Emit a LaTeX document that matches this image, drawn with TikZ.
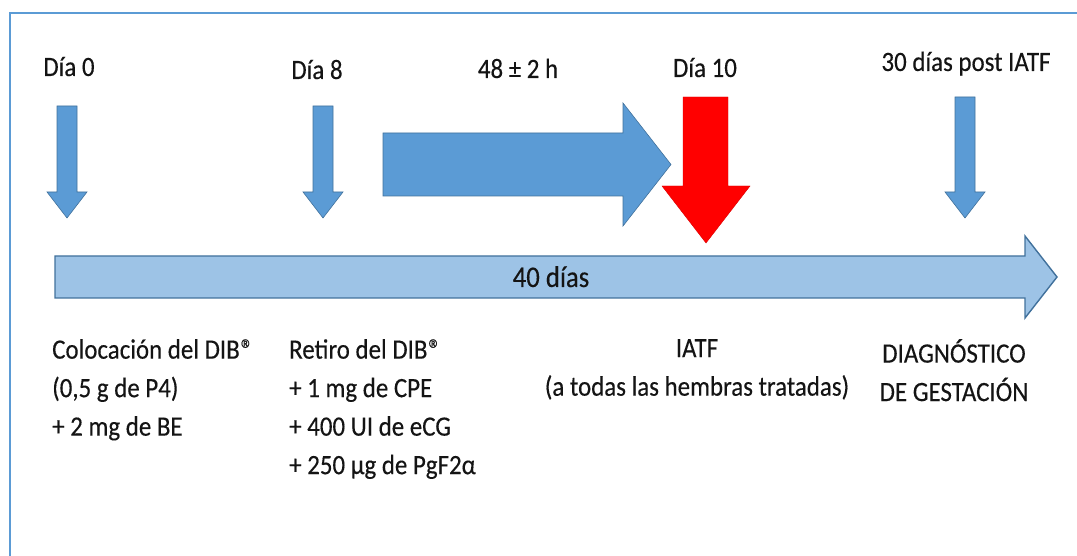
\documentclass[tikz,border=0pt]{standalone}
\usepackage{fontspec}
\setmainfont{Carlito}[FakeStretch=0.89,FakeBold=0.3]
\definecolor{arrowblue}{HTML}{5B9BD5}
\definecolor{lineblue}{HTML}{9DC3E6}
\definecolor{edgeblue}{HTML}{41719C}
\newcommand{\regmark}{\kern1pt®}
\begin{document}
\begin{tikzpicture}[x=1pt,y=-1pt]
        \tikzset{label text/.style={font=\fontsize{28}{38.5}\selectfont, text=black!92, inner sep=0pt},
            day text/.style={label text, anchor=base},
            small arrow/.style={fill=arrowblue, draw=edgeblue, line width=0.6pt},
            interval arrow/.style={fill=arrowblue, draw=edgeblue, line width=0.6pt},
            iatf arrow/.style={fill=red, draw=red!85!black, line width=0.4pt},
            time line/.style={fill=lineblue, draw=edgeblue, line width=1.4pt},
            frame line/.style={draw=arrowblue, line width=2.5pt}}
        \useasboundingbox (0,0) rectangle (1077,556);
        \draw[frame line] (10,556) -- (10,13) -- (1077,13);
        % time line
        \draw[time line] (55,256) -- (1025,256) -- (1025,236) -- (1057,277)
            -- (1025,318) -- (1025,298) -- (55,298) -- cycle;
        \node[label text, anchor=base, font=\fontsize{30}{30}\selectfont] (dias) at (551,287) {40 días};
        % arrows over the time line
        \foreach \x/\top in {67/106, 323/106, 965/97}
            \draw[small arrow] (\x-10,\top) -- (\x+10,\top) -- (\x+10,192) -- (\x+20,192)
                -- (\x,218) -- (\x-20,192) -- (\x-10,192) -- cycle;
        \draw[interval arrow] (383,133) -- (623,133) -- (623,103) -- (671,164.5)
            -- (623,226) -- (623,196) -- (383,196) -- cycle;
        \draw[iatf arrow] (683,97) -- (728,97) -- (728,186) -- (750,186)
            -- (706,243) -- (662,186) -- (683,186) -- cycle;
        % labels above
        \node[day text] (dia0) at (69,76) {Día 0};
        \node[day text] (dia8) at (317,79) {Día 8};
        \node[day text] (horas) at (518,78) {48 ± 2 h};
        \node[day text] (dia10) at (705,77) {Día 10};
        \node[day text] (post) at (966,71) {30 días post IATF};
        % labels below
        \node[label text, anchor=north west, align=left] (colocacion) at (52,339)
            {Colocación del DIB\regmark\\(0,5 g de P4)\\+ 2 mg de BE};
        \node[label text, anchor=north west, align=left] (retiro) at (289,339)
            {Retiro del DIB\regmark\\+ 1 mg de CPE\\+ 400 UI de eCG\\+ 250 µg de PgF2α};
        \node[label text, anchor=north, align=center] (iatf) at (697,339)
            {IATF\\(a todas las hembras tratadas)};
        \node[label text, anchor=north, align=center] (diagnostico) at (954,339)
            {DIAGNÓSTICO\\DE GESTACIÓN};
\end{tikzpicture}
\end{document}
